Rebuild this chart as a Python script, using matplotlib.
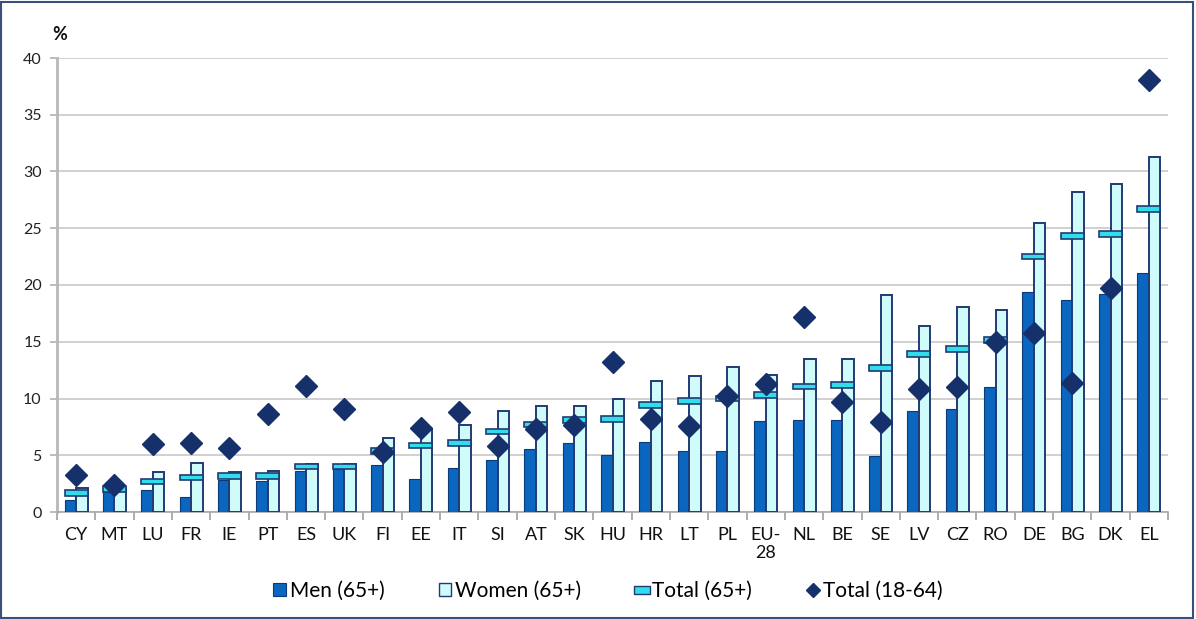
import matplotlib
matplotlib.use("Agg")
import matplotlib.pyplot as plt
import numpy as np
from matplotlib.patches import Rectangle, Patch
from matplotlib.lines import Line2D
from matplotlib.path import Path

countries = ["CY", "MT", "LU", "FR", "IE", "PT", "ES", "UK", "FI", "EE", "IT", "SI", "AT", "SK",
             "HU", "HR", "LT", "PL", "EU-\n28", "NL", "BE", "SE", "LV", "CZ", "RO", "DE", "BG", "DK", "EL"]
men_65 = [1.1, 1.8, 1.9, 1.35, 2.8, 2.7, 3.6, 3.8, 4.1, 2.87, 3.9, 4.6, 5.55, 6.1,
          5.06, 6.2, 5.35, 5.35, 8.05, 8.1, 8.1, 4.9, 8.9, 9.1, 11.0, 19.35, 18.7, 19.25, 21.1]
women_65 = [2.1, 2.1, 3.55, 4.3, 3.55, 3.6, 4.2, 4.2, 6.5, 7.25, 7.7, 8.9, 9.3, 9.3,
            9.95, 11.5, 12.0, 12.8, 12.1, 13.45, 13.45, 19.1, 16.4, 18.1, 17.8, 25.5, 28.2, 28.9, 31.3]
total_65 = [1.67, 2.0, 2.7, 3.05, 3.2, 3.2, 4.0, 4.0, 5.4, 5.85, 6.05, 7.1, 7.7, 8.1,
            8.2, 9.4, 9.8, 10.0, 10.3, 11.05, 11.2, 12.7, 13.95, 14.35, 15.15, 22.5, 24.3, 24.5, 26.7]
total_18_64 = [3.3, 2.4, 6.0, 6.05, 5.6, 8.6, 11.1, 9.05, 5.25, 7.4, 8.85, 5.8, 7.3, 7.7,
               13.25, 8.15, 7.55, 10.25, 11.25, 17.2, 9.7, 7.95, 10.85, 11.0, 15.0, 15.8, 11.4, 19.7, 38.1]
yticks = [0, 5, 10, 15, 20, 25, 30, 35, 40]
legend_labels = ["Men (65+)", "Women (65+)", "Total (65+)", "Total (18-64)"]

plt.rcParams['font.family'] = ['Lato', 'DejaVu Sans']

W, H = 1196, 619
fig = plt.figure(figsize=(W / 100, H / 100), dpi=100)
ax = fig.add_axes([57 / W, 1 - 512 / H, (1168 - 57) / W, (512 - 58) / H])

x = np.arange(len(countries))
bw = 0.3
men_c = "#0A66BE"
men_e = "#0B3C7A"
wom_c = "#CFFBFB"
navy = "#233A73"
cyan = "#2FDDEB"
dia_c = "#15306A"

ax.bar(x - bw / 2, men_65, width=bw, color=men_c, edgecolor=men_e, linewidth=0.8, zorder=3)
ax.bar(x + bw / 2, women_65, width=bw, color=wom_c, edgecolor=navy, linewidth=1.4, zorder=3)
mh = 0.5
ax.bar(x, [mh] * len(x), bottom=np.array(total_65) - mh / 2, width=0.6, color=cyan,
       edgecolor=navy, linewidth=1.2, zorder=4)
ax.plot(x, total_18_64, linestyle="none", marker="D", markersize=11, color=dia_c,
        markeredgecolor=dia_c, zorder=5)

ax.set_xlim(-0.5, len(x) - 0.5)
ax.set_ylim(0, 40)
ax.set_yticks(yticks)
ax.set_yticklabels([str(t) for t in yticks], fontsize=11.5, color="#222222")
ax.yaxis.grid(True, color="#C8C8C8", linewidth=1.2, zorder=0)
ax.set_axisbelow(True)
ax.tick_params(axis="y", length=5, color="#B0B0B0", width=1.2, pad=6)

ax.set_xticks(x)
ax.set_xticklabels(countries, fontsize=13, color="#111111", va="top", linespacing=1.1)
ax.tick_params(axis="x", which="major", length=0, pad=11)
ax.set_xticks(np.arange(-0.5, len(x), 1.0), minor=True)
ax.tick_params(axis="x", which="minor", length=6, color="#A0A0A0", width=1.2)

for s in ["top", "right"]:
    ax.spines[s].set_visible(False)
ax.spines["left"].set_color("#B8B8B8")
ax.spines["left"].set_linewidth(2)
ax.spines["bottom"].set_color("#A8A8A8")
ax.spines["bottom"].set_linewidth(1.2)

fig.text(52 / W, 1 - 35 / H, "%", fontsize=13, fontweight="bold", va="center", ha="left", color="#111111")

flat = Path([(-1, -0.45), (1, -0.45), (1, 0.45), (-1, 0.45), (-1, -0.45)],
            [Path.MOVETO, Path.LINETO, Path.LINETO, Path.LINETO, Path.CLOSEPOLY])
handles = [
    Patch(facecolor=men_c, edgecolor=men_e, linewidth=0.8),
    Patch(facecolor=wom_c, edgecolor=navy, linewidth=1.0),
    Line2D([], [], linestyle="none", marker=flat, markersize=12, markerfacecolor=cyan,
           markeredgecolor=navy, markeredgewidth=1.0),
    Line2D([], [], linestyle="none", marker="D", markersize=7, color=dia_c),
]
fig.legend(handles, legend_labels,
           loc="center", bbox_to_anchor=(608 / W, 1 - 591 / H), ncol=4, frameon=False,
           fontsize=15, handlelength=0.6, handleheight=0.6, handletextpad=0.2,
           columnspacing=2.6)

fig.patches.append(Rectangle((1 / W, 1 / H), (W - 4) / W, (H - 3) / H, transform=fig.transFigure,
                             fill=False, edgecolor="#3C4F7C", linewidth=1.5))

fig.savefig("out.png", dpi=100)
